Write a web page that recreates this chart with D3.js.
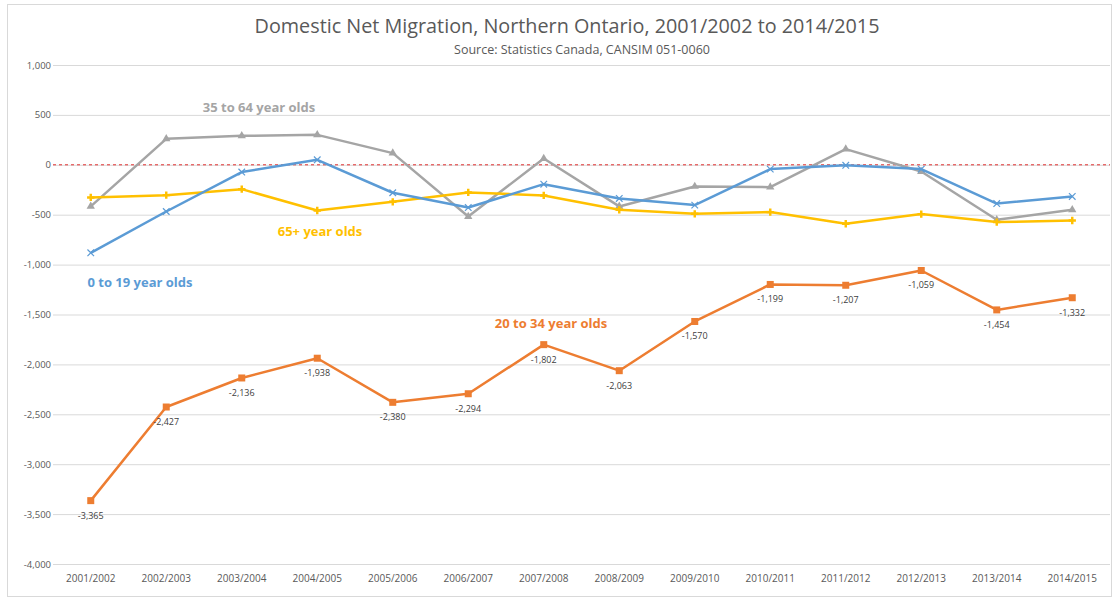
<!DOCTYPE html>
<html>
<head>
<meta charset="utf-8">
<script src="https://cdn.jsdelivr.net/npm/d3@7"></script>
<style>
  body { margin: 0; background: #fff; }
  text { font-family: "Open Sans", "Liberation Sans", sans-serif; }
</style>
</head>
<body>
<div id="chart"></div>
<script>
var years = ["2001/2002", "2002/2003", "2003/2004", "2004/2005", "2005/2006", "2006/2007", "2007/2008",
             "2008/2009", "2009/2010", "2010/2011", "2011/2012", "2012/2013", "2013/2014", "2014/2015"];
var age0to19  = [-882, -468, -73, 50, -280, -428, -194, -337, -404, -43, -5, -43, -388, -317];
var age20to34 = [-3365, -2427, -2136, -1938, -2380, -2294, -1802, -2063, -1570, -1199, -1207, -1059, -1454, -1332];
var age35to64 = [-417, 260, 290, 300, 117, -518, 63, -417, -217, -224, 157, -67, -551, -451];
var age65plus = [-327, -304, -244, -458, -371, -277, -307, -451, -491, -474, -591, -494, -574, -558];
var yTicks = [1000, 500, 0, -500, -1000, -1500, -2000, -2500, -3000, -3500, -4000];

var W = 1115, H = 600;
var plotLeft = 53, plotRight = 1110, plotTop = 65, plotBottom = 564;

var svg = d3.select("#chart").append("svg").attr("width", W).attr("height", H);

// outer chart border
svg.append("rect").attr("x", 7.5).attr("y", 4.5).attr("width", W - 11).attr("height", H - 8)
   .attr("fill", "#fff").attr("stroke", "#d9d9d9");

var x = d3.scaleBand().domain(years).range([plotLeft, plotRight]);
var y = d3.scaleLinear().domain([-4000, 1000]).range([plotBottom, plotTop]);
// plain hyphen for negatives, like the original
var fmt = d3.formatLocale({decimal: ".", thousands: ",", grouping: [3], currency: ["$", ""], minus: "-"}).format(",");

// gridlines + y labels
var yAxis = d3.axisLeft(y).tickValues(yTicks).tickSize(-(plotRight - plotLeft)).tickFormat(fmt).tickPadding(6);
var gy = svg.append("g").attr("transform", "translate(" + plotLeft + ",0)").call(yAxis);
gy.select(".domain").remove();
gy.selectAll(".tick line").attr("stroke", "#d9d9d9");
gy.selectAll(".tick text").attr("fill", "#595959").style("font-size", "9.5px").attr("x", -2);

// x labels
var xAxis = d3.axisBottom(x).tickSize(0).tickPadding(11);
var gx = svg.append("g").attr("transform", "translate(0," + plotBottom + ")").call(xAxis);
gx.select(".domain").remove();
gx.selectAll(".tick text").attr("fill", "#595959").style("font-size", "10px");

// zero line
svg.append("line").attr("x1", plotLeft).attr("x2", plotRight).attr("y1", y(0)).attr("y2", y(0))
   .attr("stroke", "#e03030").attr("stroke-width", 1).attr("stroke-dasharray", "3,3");

var series = [
  {name: "35 to 64 year olds", values: age35to64, color: "#a5a5a5", marker: "triangle", lx: 259, ly: 112},
  {name: "65+ year olds", values: age65plus, color: "#ffc000", marker: "plus", lx: 320, ly: 236},
  {name: "0 to 19 year olds", values: age0to19, color: "#5b9bd5", marker: "cross", lx: 140, ly: 287},
  {name: "20 to 34 year olds", values: age20to34, color: "#ed7d31", marker: "square", lx: 551, ly: 328}
];

var cx = function(i) { return x(years[i]) + x.bandwidth() / 2; };
var line = d3.line().x(function(d, i) { return cx(i); }).y(function(d) { return y(d); });

series.forEach(function(s) {
  var g = svg.append("g");
  g.append("path").datum(s.values).attr("d", line)
    .attr("fill", "none").attr("stroke", s.color).attr("stroke-width", 2.5).attr("stroke-linejoin", "round");

  var m = g.selectAll(".m").data(s.values).enter();
  if (s.marker === "square") {
    m.append("rect").attr("x", function(d, i) { return cx(i) - 3.5; }).attr("y", function(d) { return y(d) - 3.5; })
      .attr("width", 7).attr("height", 7).attr("fill", s.color);
  } else if (s.marker === "triangle") {
    m.append("path").attr("d", d3.symbol().type(d3.symbolTriangle).size(30))
      .attr("transform", function(d, i) { return "translate(" + cx(i) + "," + y(d) + ")"; })
      .attr("fill", s.color);
  } else if (s.marker === "cross") {
    m.append("path").attr("d", d3.symbol().type(d3.symbolTimes).size(30))
      .attr("transform", function(d, i) { return "translate(" + cx(i) + "," + y(d) + ")"; })
      .attr("fill", "none").attr("stroke", s.color).attr("stroke-width", 1.2);
  } else {
    m.append("path").attr("d", d3.symbol().type(d3.symbolCross).size(30))
      .attr("transform", function(d, i) { return "translate(" + cx(i) + "," + y(d) + ")"; })
      .attr("fill", s.color);
  }

  g.append("text").attr("x", s.lx).attr("y", s.ly).attr("text-anchor", "middle")
    .attr("fill", s.color).style("font-size", "13px").style("font-weight", "bold").text(s.name);
});

// data labels for 20 to 34
svg.append("g").selectAll("text").data(age20to34).enter().append("text")
  .attr("x", function(d, i) { return cx(i); })
  .attr("y", function(d) { return y(d) + 18; })
  .attr("text-anchor", "middle").attr("fill", "#404040").style("font-size", "9px")
  .text(function(d) { return fmt(d); });

// titles
svg.append("text").attr("x", 567).attr("y", 33).attr("text-anchor", "middle")
  .attr("fill", "#595959").style("font-size", "19.8px").text("Domestic Net Migration, Northern Ontario, 2001/2002 to 2014/2015");
svg.append("text").attr("x", 582).attr("y", 54).attr("text-anchor", "middle")
  .attr("fill", "#595959").style("font-size", "12.5px").text("Source: Statistics Canada, CANSIM 051-0060");
</script>
</body>
</html>
